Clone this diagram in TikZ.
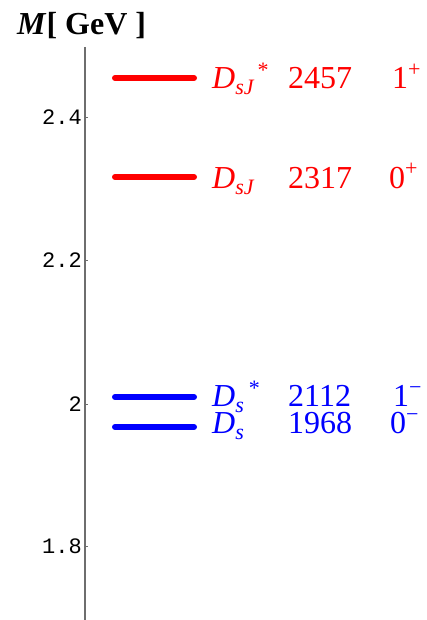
\documentclass[tikz,border=0pt]{standalone}
\usepackage{fontspec}
\setmainfont{Liberation Serif}
\newfontfamily\tickfont{Liberation Mono}
\definecolor{lvred}{RGB}{255,0,0}
\definecolor{lvblue}{RGB}{0,0,255}
\definecolor{axgray}{RGB}{110,110,110}
\newcommand{\bigf}{\fontsize{32bp}{32bp}\selectfont}
\newcommand{\Dmain}{{\fontsize{32bp}{32bp}\selectfont\itshape D}}
\newcommand{\subf}[1]{\raisebox{-6bp}{\fontsize{22bp}{22bp}\selectfont\itshape #1}}
\newcommand{\starf}{\raisebox{11bp}{\fontsize{22bp}{22bp}\selectfont *}}
\newcommand{\supf}[1]{\raisebox{12bp}{\fontsize{22bp}{22bp}\selectfont #1}}
\begin{document}
\begin{tikzpicture}[x=1bp,y=-1bp,
  level/.style={line width=6bp,line cap=round},
  lab/.style={anchor=base west,inner sep=0pt,font=\bigf},
  ticklab/.style={anchor=base east,inner sep=0pt,font=\tickfont\fontsize{22bp}{22bp}\selectfont},
  axisline/.style={draw=axgray,line width=1.3bp}]
\useasboundingbox (0,0) rectangle (426,620);
% axis
\coordinate (atop) at (85,47);
\coordinate (abot) at (85,620);
\draw[axisline] (atop) -- (abot);
\foreach \y/\t in {118/2.4,260/2.2,404/2,546/1.8}{
  \draw[axisline,line width=1bp] (85,\y) -- (88,\y);
  \node[ticklab] at (82,\y+7) {\t};
}
\node[anchor=base west,inner sep=0pt,font=\bigf\bfseries] (title) at (17,35) {\textit{M}[ GeV ]};
% levels
\draw[level,lvred] (115,78) coordinate (l1a) -- (194,78) coordinate (l1b);
\draw[level,lvred] (115,177) coordinate (l2a) -- (194,177) coordinate (l2b);
\draw[level,lvblue] (115,397) coordinate (l3a) -- (194,397) coordinate (l3b);
\draw[level,lvblue] (115,427) coordinate (l4a) -- (194,427) coordinate (l4b);
% labels
\node[lab,text=lvred] (n1) at (212,89) {\Dmain\subf{sJ}\hspace{4bp}\starf};
\node[lab,text=lvred] (m1) at (288,89) {2457};
\node[lab,text=lvred] (j1) at (392,89) {1\supf{+}};
\node[lab,text=lvred] (n2) at (212,188) {\Dmain\subf{sJ}};
\node[lab,text=lvred] (m2) at (288,188) {2317};
\node[lab,text=lvred] (j2) at (389,188) {0\supf{+}};
\node[lab,text=lvblue] (n3) at (212,406) {\Dmain\subf{s}\hspace{5bp}\starf};
\node[lab,text=lvblue] (m3) at (288,406) {2112};
\node[lab,text=lvblue] (j3) at (393,406) {1\supf{−}};
\node[lab,text=lvblue] (n4) at (212,433) {\Dmain\subf{s}};
\node[lab,text=lvblue] (m4) at (288,433) {1968};
\node[lab,text=lvblue] (j4) at (390,433) {0\supf{−}};
\end{tikzpicture}
\end{document}
